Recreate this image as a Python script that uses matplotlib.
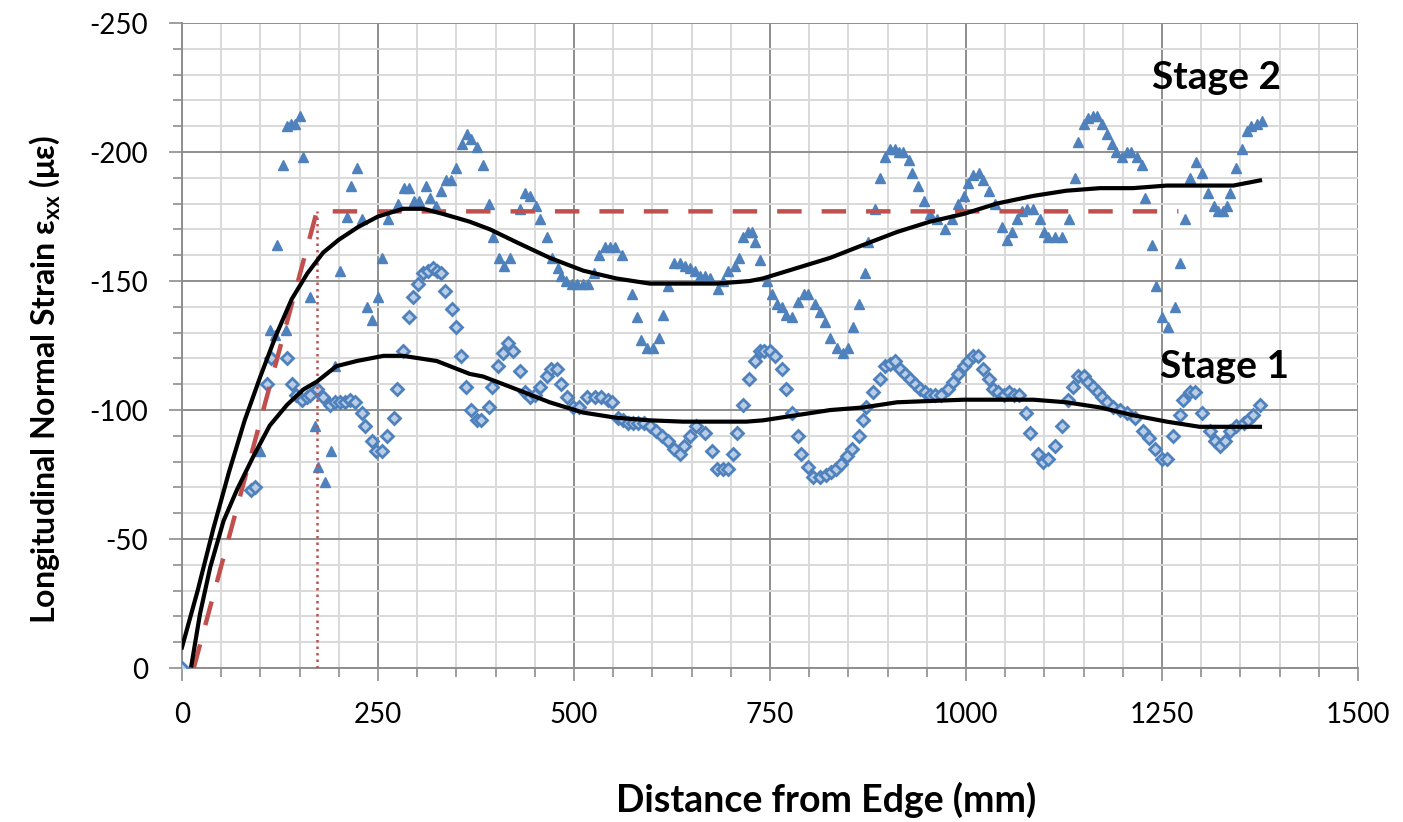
import numpy as np
import matplotlib
matplotlib.use("Agg")
import matplotlib.pyplot as plt
from matplotlib.ticker import MultipleLocator

plt.rcParams["font.family"] = ["Lato", "DejaVu Sans"]
plt.rcParams["axes.unicode_minus"] = False
plt.rcParams["mathtext.default"] = "regular"

# ---- data (x in mm, strain in microstrain) ----
stage1_x = [0, 88, 93, 108, 114, 134, 140, 146, 153, 159, 163, 172, 180, 189, 195, 201,
            208, 214, 221, 229, 233, 242, 248, 255, 261, 270, 274, 282, 289, 295, 301,
            308, 314, 320, 325, 331, 336, 344, 350, 356, 362, 369, 376, 382, 391, 395,
            403, 410, 416, 422, 431, 437, 444, 450, 457, 465, 471, 478, 484, 491, 499,
            506, 516, 527, 535, 543, 549, 556, 563, 569, 575, 582, 589, 597, 605, 612,
            620, 627, 635, 640, 648, 656, 667, 676, 682, 690, 697, 703, 708, 716, 723,
            731, 737, 743, 750, 756, 765, 771, 778, 786, 790, 799, 805, 814, 821, 828,
            834, 840, 848, 854, 863, 869, 873, 882, 890, 897, 903, 910, 916, 922, 929,
            935, 941, 948, 954, 960, 968, 977, 984, 990, 997, 1003, 1009, 1015, 1022,
            1029, 1035, 1041, 1048, 1055, 1061, 1068, 1077, 1082, 1092, 1098, 1105,
            1113, 1122, 1130, 1137, 1143, 1150, 1156, 1162, 1168, 1174, 1180, 1188,
            1197, 1206, 1216, 1226, 1233, 1241, 1250, 1256, 1264, 1273, 1277, 1286,
            1292, 1301, 1311, 1318, 1324, 1330, 1337, 1345, 1354, 1360, 1366, 1375]
stage1_y = [0, -69, -70, -110, -120, -120, -110, -106, -104, -105, -106, -108, -105, -102,
            -103, -103, -103, -104, -103, -99, -94, -88, -84, -84, -90, -97, -108, -123,
            -136, -144, -149, -153, -154, -155, -154, -153, -146, -139, -132, -121, -109,
            -100, -96, -96, -101, -109, -117, -122, -126, -123, -115, -107, -105, -106,
            -109, -113, -116, -116, -110, -105, -101, -101, -105, -105, -105, -104, -103,
            -97, -96, -95, -95, -95, -95, -94, -92, -90, -88, -85, -83, -86, -90, -94,
            -91, -84, -77, -77, -77, -83, -91, -102, -112, -119, -123, -123, -123, -121,
            -116, -108, -99, -90, -83, -78, -74, -74, -75, -76, -77, -79, -82, -85, -90,
            -96, -101, -107, -112, -117, -118, -119, -116, -114, -112, -110, -108, -107,
            -106, -106, -106, -108, -111, -114, -117, -119, -121, -121, -116, -112, -108,
            -107, -106, -107, -106, -106, -99, -91, -83, -80, -81, -86, -94, -104, -109,
            -113, -113, -111, -109, -107, -105, -103, -101, -100, -99, -97, -92, -89,
            -85, -81, -81, -90, -98, -104, -107, -107, -99, -92, -88, -86, -88, -92,
            -94, -95, -96, -98, -102]

stage2_x = [0, 99, 112, 119, 121, 129, 133, 134, 139, 144, 150, 155, 163, 170, 174, 182,
            190, 195, 201, 210, 215, 223, 229, 236, 242, 250, 255, 263, 275, 283, 290,
            296, 302, 311, 316, 324, 331, 337, 343, 350, 357, 363, 369, 376, 384, 392,
            397, 404, 411, 418, 431, 437, 444, 452, 457, 465, 472, 479, 483, 490, 497,
            504, 511, 518, 525, 532, 540, 546, 552, 561, 574, 580, 586, 593, 601, 608,
            614, 620, 627, 635, 642, 648, 654, 661, 667, 673, 684, 690, 697, 705, 710,
            716, 722, 727, 731, 737, 746, 752, 759, 765, 771, 778, 786, 793, 799, 807,
            814, 820, 827, 835, 843, 850, 856, 863, 871, 875, 884, 890, 897, 903, 909,
            915, 920, 927, 931, 939, 946, 954, 963, 973, 982, 990, 997, 1003, 1009,
            1016, 1022, 1029, 1037, 1046, 1052, 1059, 1065, 1071, 1078, 1086, 1094,
            1099, 1105, 1113, 1122, 1131, 1139, 1143, 1150, 1156, 1162, 1167, 1173,
            1180, 1186, 1192, 1199, 1205, 1211, 1218, 1224, 1228, 1237, 1243, 1250,
            1258, 1267, 1273, 1279, 1286, 1294, 1301, 1309, 1316, 1322, 1328, 1333,
            1337, 1345, 1352, 1358, 1364, 1371, 1377]
stage2_y = [0, -84, -131, -129, -164, -195, -131, -210, -211, -211, -214, -198, -144, -94,
            -78, -72, -84, -117, -154, -175, -187, -194, -174, -140, -135, -144, -159,
            -174, -180, -186, -186, -181, -181, -187, -182, -179, -185, -189, -189, -194,
            -203, -207, -205, -202, -195, -180, -167, -159, -156, -159, -178, -184, -183,
            -179, -174, -167, -159, -155, -152, -150, -149, -149, -149, -149, -153, -160,
            -163, -163, -163, -160, -145, -136, -127, -124, -124, -128, -137, -148, -157,
            -157, -156, -155, -154, -152, -152, -151, -147, -150, -154, -156, -159, -167,
            -169, -169, -165, -158, -150, -145, -141, -140, -137, -136, -142, -145, -145,
            -141, -138, -134, -128, -124, -122, -124, -132, -141, -153, -165, -178, -190,
            -198, -201, -201, -200, -200, -197, -192, -187, -181, -176, -174, -170, -174,
            -180, -183, -188, -191, -192, -189, -185, -180, -171, -166, -169, -174, -177,
            -178, -178, -174, -169, -167, -167, -167, -174, -190, -204, -211, -213, -214,
            -214, -211, -207, -203, -200, -198, -200, -200, -198, -195, -182, -164, -148,
            -136, -132, -140, -157, -174, -190, -196, -192, -184, -179, -177, -177, -179,
            -184, -194, -201, -208, -210, -211, -212]

# polynomial trend lines
trend1_x = [12, 23, 36, 53, 70, 91, 112, 134, 155, 172, 197, 223, 257, 282, 325, 367, 384,
            427, 469, 512, 554, 597, 639, 682, 720, 741, 784, 827, 869, 912, 954, 997,
            1039, 1086, 1128, 1171, 1213, 1256, 1298, 1341, 1375]
trend1_y = [-1, -21, -39, -57, -69, -82, -94, -102, -108, -111, -117, -119, -121, -121,
            -119, -114, -113, -108, -103, -99, -97, -96, -95.5, -95.5, -95.5, -96, -98,
            -100, -101, -103, -103.5, -104, -104, -104, -103, -101, -98, -95.5, -93.5,
            -93.5, -93.5]
trend2_x = [0, 20, 40, 60, 80, 100, 120, 140, 160, 180, 200, 225, 250, 282, 308, 333, 367,
            393, 427, 469, 512, 554, 597, 639, 682, 724, 741, 784, 827, 869, 912, 954,
            997, 1039, 1086, 1128, 1171, 1213, 1256, 1298, 1341, 1375]
trend2_y = [-8, -30, -54, -76, -96, -113, -129, -143, -153, -161, -166, -171, -175, -178,
            -178, -176, -173, -170, -165, -159, -154, -151, -149, -149, -149, -150, -151,
            -155, -159, -164, -169, -173, -176, -180, -183, -185, -186, -186, -187, -187,
            -187, -189]

# idealised (bilinear) distribution
ideal_x = [15, 172, 1271]
ideal_y = [0, -177, -177]
ideal_knee_x = 172

BLUE = "#4F81BD"
RED = "#C0504D"

fig = plt.figure(figsize=(14.03, 8.22), dpi=100)
ax = fig.add_axes([0.1297, 0.1873, 0.9679 - 0.1297, 0.972 - 0.1873])

ax.plot(stage2_x, stage2_y, ls="none", marker="^", ms=7, color=BLUE, mec=BLUE, zorder=3)
ax.plot(stage1_x, stage1_y, ls="none", marker="D", ms=6.5, mfc="#b9cde6", mec=BLUE,
        mew=2.0, zorder=3)

ax.plot(ideal_x, ideal_y, color=RED, lw=3.2, dashes=(5.5, 4.5), zorder=4)
ax.plot([ideal_knee_x, ideal_knee_x], [0, ideal_y[1]], color=RED, lw=1.8,
        ls=(0, (1, 1.6)), zorder=4)

ax.plot(trend1_x, trend1_y, color="black", lw=3.0, zorder=5)
ax.plot(trend2_x, trend2_y, color="black", lw=3.0, zorder=5)

ax.set_xlim(0, 1500)
ax.set_ylim(0, -250)
ax.xaxis.set_major_locator(MultipleLocator(250))
ax.xaxis.set_minor_locator(MultipleLocator(50))
ax.yaxis.set_major_locator(MultipleLocator(50))
ax.yaxis.set_minor_locator(MultipleLocator(10))

ax.grid(which="major", color="#8e8e8e", lw=1.4)
ax.grid(which="minor", color="#d9d9d9", lw=1.4)
ax.set_axisbelow(True)

for s in ["top", "right"]:
    ax.spines[s].set_visible(False)
for s in ["left", "bottom"]:
    ax.spines[s].set_color("#8e8e8e")
    ax.spines[s].set_linewidth(1.4)

ax.tick_params(which="major", direction="out", length=9.5, width=1.2, color="#8e8e8e",
               labelsize=20, pad=15)
ax.tick_params(which="minor", direction="out", length=6.5, width=1.2, color="#8e8e8e")

fig.text(826 / 1403, 1 - 800 / 822, "Distance from Edge (mm)", ha="center", va="center",
         fontsize=27, fontweight="bold")
fig.text(45 / 1403, 1 - 380 / 822, r"Longitudinal Normal Strain ε$_{xx}$ (με)",
         ha="center", va="center", rotation=90, fontsize=23, fontweight="bold")

ax.text(1320, -229, "Stage 2", ha="center", va="center", fontsize=28, fontweight="bold")
ax.text(1330, -117, "Stage 1", ha="center", va="center", fontsize=28, fontweight="bold")

fig.savefig("out.png", dpi=100)
